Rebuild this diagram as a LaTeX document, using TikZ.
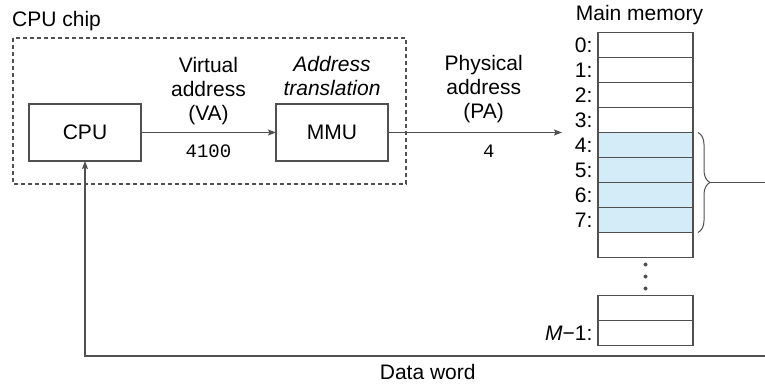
\documentclass[tikz,border=0pt]{standalone}
\usepackage{fontspec}
\setmainfont{Liberation Sans}
\setmonofont{Liberation Mono}
\usetikzlibrary{matrix, positioning, arrows.meta, decorations.pathreplacing}
\definecolor{memblue}{HTML}{D4ECF8}
\definecolor{linegray}{HTML}{505050}
\newcommand{\bigsz}{\fontsize{21}{24}\selectfont}
\tikzset{
  box/.style={draw=linegray, line width=1.2pt, minimum width=112pt, minimum height=57pt, inner sep=0pt, outer sep=0pt},
  cell/.style={draw=linegray, line width=1.2pt, minimum width=95pt, minimum height=25pt},
  wire/.style={draw=linegray, line width=1.2pt},
  arr/.style={wire, -{Stealth[length=8pt, width=6pt, inset=1.5pt]}},
  lbl/.style={align=center, inner sep=0pt},
  mono/.style={font=\ttfamily\fontsize{19}{22}\selectfont, inner sep=0pt}
}

\begin{document}
\begin{tikzpicture}[x=1pt, y=-1pt, font=\bigsz]
  \useasboundingbox (0,0) rectangle (765,385);
  \node[anchor=west, inner sep=0pt] (chip) at (12,21) {CPU chip};
  \draw[wire, dash pattern=on 4pt off 3pt] (13,38) rectangle (406,184);
  \node[box] (cpu) at (85,132.5) {CPU};
  \node[box, right=135pt of cpu] (mmu) {MMU};
  \node[lbl, above=8pt of mmu, font=\bigsz\itshape] (trans) {Address\\translation};
  \matrix (mem) [matrix of nodes, nodes in empty cells, anchor=north east, inner sep=0pt, outer sep=0pt,
    row sep=-1.2pt, column sep=5pt, nodes={inner sep=0pt, outer sep=0pt},
    column 1/.style={nodes={anchor=east}},
    column 2/.style={nodes={cell}},
    row 5 column 2/.style={nodes={fill=memblue}},
    row 6 column 2/.style={nodes={fill=memblue}},
    row 7 column 2/.style={nodes={fill=memblue}},
    row 8 column 2/.style={nodes={fill=memblue}},
    row 10 column 2/.style={nodes={draw=none, minimum height=39.2pt}}] at (693.6,31.9) {
    0: & \\
    1: & \\
    2: & \\
    3: & \\
    4: & \\
    5: & \\
    6: & \\
    7: & \\
       & \\
       & \\
       & \\
    \textit{M}−1: & \\
  };
  \node[above=7pt of mem-1-2, xshift=-6pt, inner sep=0pt] (memtitle) {Main memory};
  \foreach \d in {-12,0,12}
    \fill[linegray] ([yshift=\d pt]mem-10-2.center) circle[radius=2pt];
  \coordinate (paend) at ([xshift=-36pt]mem-4-2.south west);
  \coordinate (tip) at ([xshift=17pt]mem-6-2.south east);
  \coordinate (bus) at (765,183);
  \coordinate (dw) at (765,356);
  \draw[arr] (cpu) -- node[lbl, above=7pt] (va) {Virtual\\address\\(VA)}
    node[mono, below=12pt] (vanum) {4100} (mmu);
  \draw[arr] (mmu.east) -- node[lbl, above=9pt, pos=.55] (pa) {Physical\\address\\(PA)}
    node[mono, below=12pt, pos=.58] (panum) {4} (mmu.east -| paend);
  \draw[wire, line width=1pt, decorate, decoration={brace, amplitude=12pt}]
    ([xshift=5pt]mem-5-2.north east) -- ([xshift=5pt]mem-8-2.south east);
  \draw[wire] (tip) -- (tip -| bus);
  \draw[arr] (dw) -| node[pos=.248, below=8pt, inner sep=0pt] (dwlabel) {Data word} (cpu.south);
\end{tikzpicture}
\end{document}
